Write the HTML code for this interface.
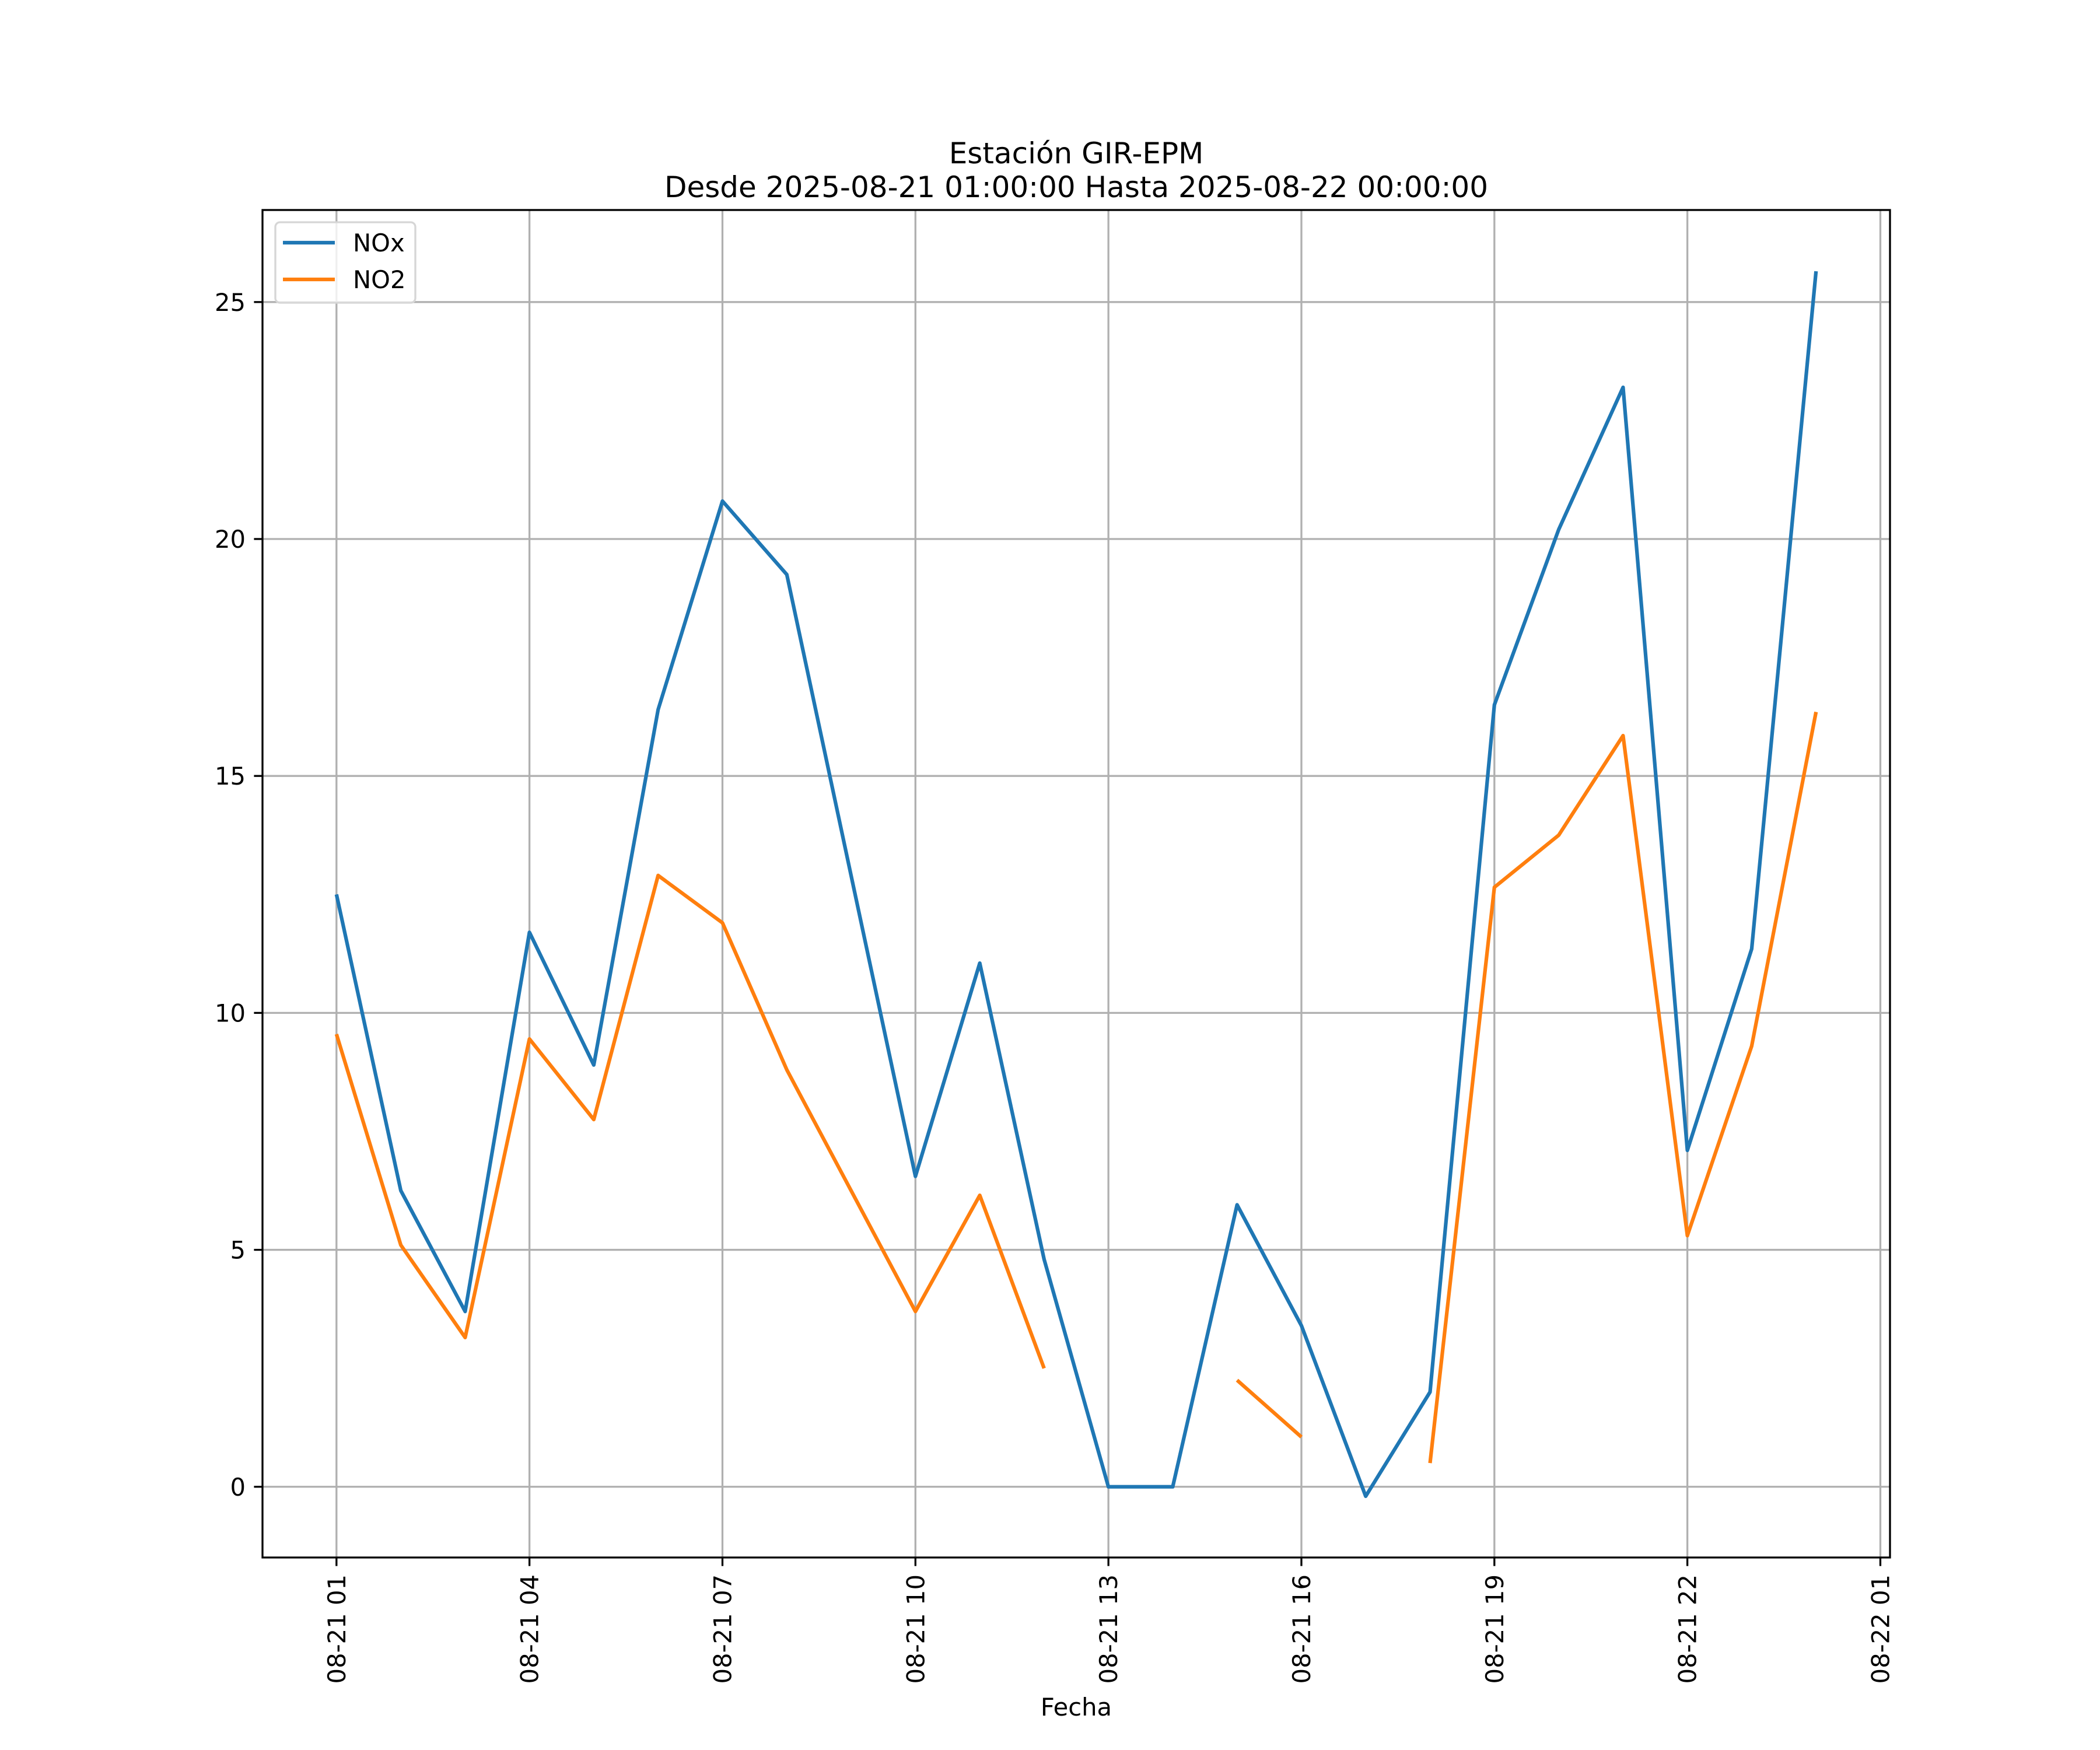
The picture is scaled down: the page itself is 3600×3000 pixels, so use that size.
<!DOCTYPE html>
<html><head><meta charset="utf-8">
<style>html,body{margin:0;padding:0;background:#fff}svg{display:block;font-family:"DejaVu Sans","Liberation Sans",sans-serif}</style>
</head><body>
<svg id="chart" width="3600" height="3000" viewBox="0 0 3600 3000" xmlns="http://www.w3.org/2000/svg">
<rect width="3600" height="3000" fill="#fff"/>
<text x="1845" y="280" font-size="50" text-anchor="middle">Estación GIR-EPM</text>
<text x="1845" y="338" font-size="50" text-anchor="middle">Desde 2025-08-21 01:00:00 Hasta 2025-08-22 00:00:00</text>
<g id="grid"></g>
<g id="series"></g>
<g id="axes"></g>
<text x="1845" y="2941" font-size="41.7" text-anchor="middle">Fecha</text>
<g>
<rect x="472" y="381" width="240" height="138" rx="8" fill="#fff" fill-opacity="0.8" stroke="#d6d6d6" stroke-width="3.3"/>
<line x1="485" y1="416" x2="574" y2="416" stroke="#1f77b4" stroke-width="6.25"/>
<text x="605" y="431" font-size="41.7">NOx</text>
<line x1="485" y1="479" x2="574" y2="479" stroke="#ff7f0e" stroke-width="6.25"/>
<text x="605" y="494" font-size="41.7">NO2</text>
</g>
</svg>
<script>
const hours = [0,1,2,3,4,5,6,7,8,9,10,11,12,13,14,15,16,17,18,19,20,21,22,23];
const noxValues = [12.5,6.25,3.7,11.7,8.9,16.4,20.8,19.25,12.9,6.55,11.05,4.8,0,0,5.95,3.4,-0.2,2.0,16.5,20.2,23.2,7.1,11.35,25.65];
const no2Values = [9.55,5.1,3.15,9.45,7.75,12.9,11.9,8.8,6.25,3.7,6.15,2.5,null,null,2.25,1.05,null,0.5,12.65,13.75,15.85,5.3,9.3,16.35];
const xTickHours = [0,3,6,9,12,15,18,21,24];
const xTickLabels = ["08-21 01","08-21 04","08-21 07","08-21 10","08-21 13","08-21 16","08-21 19","08-21 22","08-22 01"];
const yTicks = [0,5,10,15,20,25];

const NS="http://www.w3.org/2000/svg";
const L=450,R=3240,T=360,B=2670;
const all=noxValues.concat(no2Values).filter(v=>v!==null);
const ymin=Math.min(...all),ymax=Math.max(...all),ym=(ymax-ymin)*0.05;
const y0=ymin-ym,y1=ymax+ym;
const xmin=Math.min(...hours),xmax=Math.max(...hours),xm=(xmax-xmin)*0.05;
const x0=xmin-xm,x1=xmax+xm;
const sx=h=>L+(h-x0)/(x1-x0)*(R-L);
const sy=v=>B-(v-y0)/(y1-y0)*(B-T);
function mk(tag,attrs,parent){const e=document.createElementNS(NS,tag);for(const k in attrs)e.setAttribute(k,attrs[k]);parent.appendChild(e);return e;}
const grid=document.getElementById('grid'),axes=document.getElementById('axes'),series=document.getElementById('series');
xTickHours.forEach((h,i)=>{
  const x=sx(h);
  const g=mk('line',{x1:x,y1:T,x2:x,y2:B,stroke:'#b0b0b0','stroke-width':3.3},grid);
  
  
  const t=mk('line',{x1:x,y1:B,x2:x,y2:B+14.6,stroke:'#000','stroke-width':3.3},axes);
  
  
  const lb=mk('text',{x:0,y:0,'font-size':41.7,'text-anchor':'end',transform:`translate(${x+15},${B+29}) rotate(-90)`},axes);
  lb.textContent=xTickLabels[i];
  
  
});
yTicks.forEach(v=>{
  const y=sy(v);
  const g=mk('line',{x1:L,y1:y,x2:R,y2:y,stroke:'#b0b0b0','stroke-width':3.3},grid);
  
  
  const t=mk('line',{x1:L-14.6,y1:y,x2:L,y2:y,stroke:'#000','stroke-width':3.3},axes);
  
  
  const lb=mk('text',{x:L-29,y:y+15,'font-size':41.7,'text-anchor':'end'},axes);
  lb.textContent=String(v);
  
  
});
const frame=mk('rect',{x:L,y:T,width:R-L,height:B-T,fill:'none',stroke:'#000','stroke-width':3.3},axes);


function pathFor(vals){let d='',pen=false;vals.forEach((v,i)=>{if(v===null){pen=false;return;}d+=(pen?'L':'M')+sx(hours[i]).toFixed(1)+','+sy(v).toFixed(1);pen=true;});return d;}
const p1=mk('path',{d:pathFor(noxValues),fill:'none',stroke:'#1f77b4','stroke-width':6.25,'stroke-linejoin':'round'},series);


const p2=mk('path',{d:pathFor(no2Values),fill:'none',stroke:'#ff7f0e','stroke-width':6.25,'stroke-linejoin':'round'},series);


</script>
</body></html>
